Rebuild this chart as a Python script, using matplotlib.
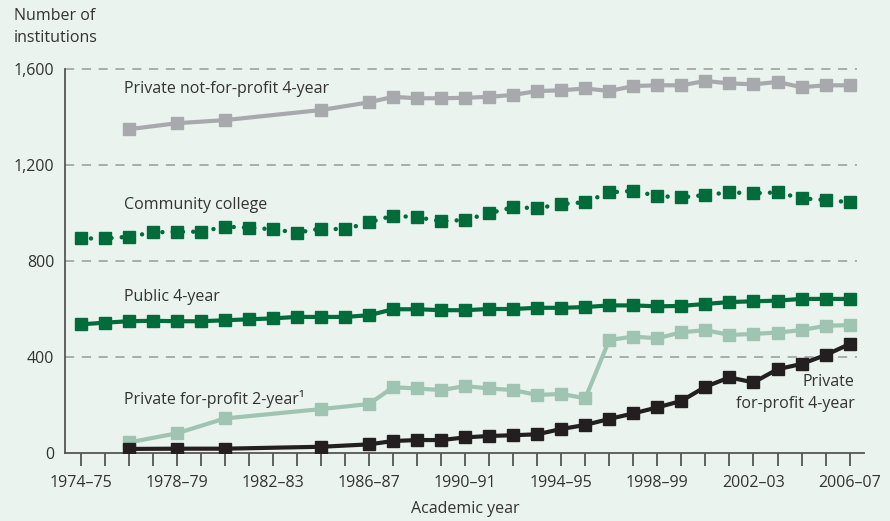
import matplotlib.pyplot as plt
import numpy as np

plt.rcParams['font.family'] = ['Open Sans', 'DejaVu Sans']

years = ['1974\u201375', '1975\u201376', '1976\u201377', '1977\u201378', '1978\u201379', '1979\u201380',
         '1980\u201381', '1981\u201382', '1982\u201383', '1983\u201384', '1984\u201385', '1985\u201386',
         '1986\u201387', '1987\u201388', '1988\u201389', '1989\u201390', '1990\u201391', '1991\u201392',
         '1992\u201393', '1993\u201394', '1994\u201395', '1995\u201396', '1996\u201397', '1997\u201398',
         '1998\u201399', '1999\u20132000', '2000\u201301', '2001\u201302', '2002\u201303', '2003\u201304',
         '2004\u201305', '2005\u201306', '2006\u201307']
tick_labels = ['1974\u201375', '1978\u201379', '1982\u201383', '1986\u201387', '1990\u201391',
               '1994\u201395', '1998\u201399', '2002\u201303', '2006\u201307']

community = [894, 894, 901, 919, 922, 922, 943, 939, 932, 918, 935, 932, 961, 989, 982, 966,
             971, 999, 1024, 1020, 1037, 1045, 1086, 1092, 1071, 1065, 1075, 1086, 1082, 1086,
             1061, 1054, 1045]
public4 = [536, 543, 549, 551, 549, 549, 553, 557, 561, 567, 567, 567, 574, 599, 599, 595,
           595, 600, 600, 605, 605, 608, 615, 615, 611, 613, 621, 629, 632, 635, 642, 642, 642]

# private series start in 1976-77 and skip some years
priv_idx = [2, 4, 6, 10, 12, 13, 14, 15, 16, 17, 18, 19, 20, 21, 22, 23, 24, 25, 26, 27, 28,
            29, 30, 31, 32]
nonprofit4 = [1349, 1374, 1387, 1429, 1461, 1484, 1478, 1478, 1480, 1484, 1492, 1508, 1511,
              1519, 1508, 1529, 1532, 1532, 1550, 1540, 1536, 1546, 1524, 1532, 1532]
forprofit2 = [44, 82, 144, 183, 204, 274, 269, 262, 279, 269, 262, 242, 246, 228, 471, 485,
              478, 503, 512, 492, 496, 502, 512, 530, 533]
forprofit4 = [17, 18, 18, 26, 36, 50, 54, 54, 65, 71, 74, 78, 100, 117, 142, 165, 190, 217,
              276, 315, 294, 349, 371, 408, 454]

bg = '#eaf3ee'
gray = '#a7a9ac'
dgreen = '#006b3b'
lgreen = '#9fc5b2'
black = '#231f20'
txt = '#333333'

fig = plt.figure(figsize=(8.9, 5.21), dpi=100, facecolor=bg)
ax = fig.add_axes([0.0734, 0.1305, 0.8974, 0.7371], facecolor=bg)

x = np.arange(len(years))
ms = 8

for v in [400, 800, 1200, 1600]:
    ax.plot([-0.64, 32.3], [v, v], color='#9a9a9a', lw=1.1, dashes=(6, 5), zorder=1,
            clip_on=False)

ax.plot(priv_idx, nonprofit4, color=gray, lw=3, marker='s', ms=ms, zorder=3)
ax.plot(x, community, color=dgreen, lw=3.2, linestyle=(0, (0.01, 2.3)),
        dash_capstyle='round', zorder=3)
ax.plot(x, community, color=dgreen, lw=0, marker='s', ms=ms, zorder=4)
ax.plot(x, public4, color=dgreen, lw=3, marker='s', ms=ms, zorder=3)
ax.plot(priv_idx, forprofit2, color=lgreen, lw=3, marker='s', ms=ms, zorder=3)
ax.plot(priv_idx, forprofit4, color=black, lw=3, marker='s', ms=ms, zorder=4)

ax.set_xlim(-0.64, 32.6)
ax.set_ylim(0, 1600)
ax.set_xticks(x)
ax.set_xticklabels([y if y in tick_labels else '' for y in years])
ax.set_yticks([0, 400, 800, 1200, 1600])
ax.set_yticklabels(['0', '400', '800', '1,200', '1,600'])
ax.tick_params(axis='x', direction='out', length=9, width=1.3, color='#555555',
               labelsize=11.5, labelcolor=txt, pad=7)
ax.tick_params(axis='y', length=0, labelsize=11.5, labelcolor=txt, pad=8)
for s in ['top', 'right']:
    ax.spines[s].set_visible(False)
for s in ['left', 'bottom']:
    ax.spines[s].set_color('#555555')
    ax.spines[s].set_linewidth(1.3)

tkw = dict(fontsize=11.5, color=txt, va='center')
ax.text(1.8, 1516, 'Private not-for-profit 4-year', **tkw)
ax.text(1.8, 1034, 'Community college', **tkw)
ax.text(1.8, 651, 'Public 4-year', **tkw)
ax.text(1.8, 226, 'Private for-profit 2-year\u00b9', **tkw)
ax.text(32.2, 295, 'Private', ha='right', **tkw)
ax.text(32.2, 203, 'for-profit 4-year', ha='right', **tkw)

fig.text(14 / 890, 1 - 27 / 521, 'Number of\ninstitutions', fontsize=11.5, color=txt,
         va='center', ha='left', linespacing=1.45)
fig.text(465 / 890, 1 - 509 / 521, 'Academic year', fontsize=11.5, color=txt,
         va='center', ha='center')

fig.savefig('out.png', dpi=100, facecolor=bg)
